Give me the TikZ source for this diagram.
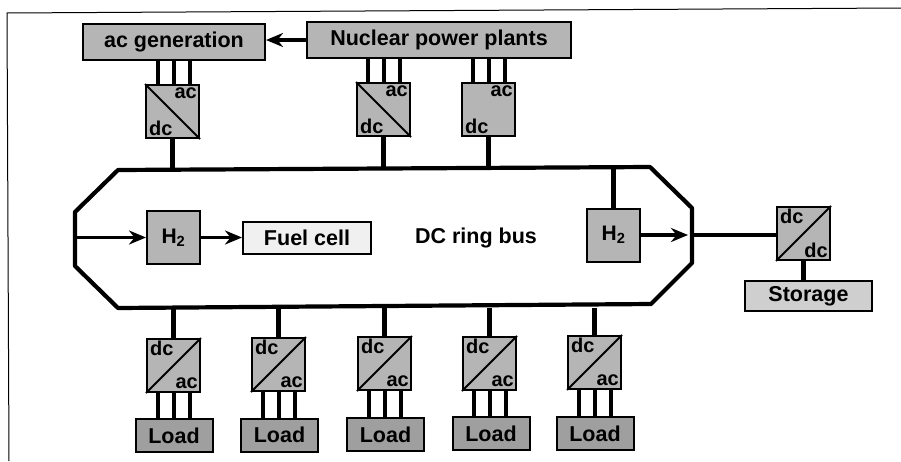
\documentclass[tikz,border=0pt]{standalone}
\usepackage{fontspec}
\setmainfont{Liberation Sans}
\usetikzlibrary{positioning}
\usetikzlibrary{arrows.meta}
\usetikzlibrary{calc}

\tikzset{
	bus line/.style={line width=4.2pt,black},
	phase line/.style={line width=4pt,black},
	feed/.style={line width=3.4pt,black,-{Stealth[length=17pt,width=14pt]}},
	conv box/.style={draw,line width=2pt,fill=gray!58,minimum size=53pt,inner sep=0pt},
	conv text/.style={inner sep=0pt,font=\fontsize{20}{20}\selectfont\bfseries},
	source box/.style={draw,line width=2pt,fill=gray!58,inner sep=0pt,font=\fontsize{21.5}{21.5}\selectfont\bfseries},
	load box/.style={source box,fill=gray!75,minimum width=77pt,minimum height=33pt},
}

% three conductors between a box and a converter
\newcommand{\PhaseLines}[2]{
	\foreach \Off in {-16,0,16}
		\draw[phase line] ([xshift=\Off pt]#1.south) -- ([xshift=\Off pt]#1.south |- #2.north);
}
\newcommand{\PhaseLinesUp}[2]{
	\foreach \Off in {-16,0,16}
		\draw[phase line] ([xshift=\Off pt]#1.north) -- ([xshift=\Off pt]#1.north |- #2.south);
}

\begin{document}
\begin{tikzpicture}[x=1pt,y=-1pt]
\useasboundingbox (0,0) rectangle (901,461);

% scanned frame
\draw[line width=1pt] (9,461) -- (7,13) -- (901,8);

% Generation
\node (acgen) [source box,minimum width=182pt,minimum height=36pt] at (174,42) {ac generation};
\node (nuclear) [source box,minimum width=264pt,minimum height=36pt] at (439,40) {Nuclear power plants};
\draw[feed] (nuclear.west) -- (nuclear.west -| acgen.east);

% top converters
\node (convA) [conv box] at (172.5,111.5) {};
\node (convB) [conv box] at (383.5,109.5) {};
\node (convC) [conv box] at (488.5,109.5) {};
\draw[line width=1.8pt] (convA.north west) -- (convA.south east);
\draw[line width=1.8pt] (convB.north west) -- (convB.south east);
\foreach \Conv in {convA,convB,convC} {
	\node (\Conv ac) [conv text,anchor=north east] at ([shift={(-3,4)}]\Conv.north east) {ac};
	\node (\Conv dc) [conv text,anchor=south west] at ([shift={(4,-3)}]\Conv.south west) {dc};
}
\PhaseLines{acgen}{convA}
\PhaseLinesUp{convB}{nuclear}
\PhaseLinesUp{convC}{nuclear}

% DC ring
\coordinate (ringA) at (118,170);
\coordinate (ringB) at (650,167);
\coordinate (ringC) at (692,208);
\coordinate (ringD) at (692,263);
\coordinate (ringE) at (651,304);
\coordinate (ringF) at (118,308);
\coordinate (ringG) at (75,266);
\coordinate (ringH) at (75,212);
\draw[bus line,line join=round] (ringA) -- (ringB) -- (ringC) -- (ringD) -- (ringE) -- (ringF) -- (ringG) -- (ringH) -- cycle;
\draw[bus line] (convA.south) -- (convA.south |- ringA);
\draw[bus line] (convB.south) -- (convB.south |- ringA);
\draw[bus line] (convC.south) -- (convC.south |- ringB);

\node (busname) [inner sep=0pt,font=\fontsize{21.5}{21.5}\selectfont\bfseries] at (476,238) {DC ring bus};

% hydrogen
\node (hleft) [conv box,font=\fontsize{21}{21}\selectfont\bfseries] at (173.5,237.5) {H$_{\mathbf 2}$};
\node (fuel) [source box,fill=gray!12,minimum width=128pt,minimum height=32pt] at (307,237.5) {Fuel cell};
\node (hright) [conv box,font=\fontsize{21}{21}\selectfont\bfseries] at (613.5,235) {H$_{\mathbf 2}$};
\coordinate (ringW) at (75,237.5);
\coordinate (ringO) at (688,235);
\coordinate (ringX) at (692,235);
\draw[feed] (ringW) -- (hleft.west);
\draw[feed] (hleft.east) -- (fuel.west);
\draw[bus line] (hright.north) -- (hright.north |- ringB);
\draw[feed] (hright.east) -- (ringO);

% storage branch
\node (convS) [conv box] at (803.5,233.5) {};
\draw[line width=1.8pt] (convS.south west) -- (convS.north east);
\node (convSdc) [conv text,anchor=north west] at ([shift={(4,3)}]convS.north west) {dc};
\node (convSdcb) [conv text,anchor=south east] at ([shift={(-3,-3)}]convS.south east) {dc};
\node (storage) [source box,fill=gray!38,minimum width=127pt,minimum height=30pt] at (808.5,296) {Storage};
\draw[bus line] (ringX) -- (ringX -| convS.west);
\draw[bus line] (convS.south) -- (convS.south |- storage.north);

% Load converters
\foreach \Name/\Cx/\Cy/\Lx/\Ly in {1/173.5/365.5/174/435.5,2/278.5/364.5/279.5/435,3/384.5/363.5/385.5/434.5,4/489.5/363.5/491/433.5,5/594.5/362.5/595/433.5} {
	\node (conv\Name) [conv box] at (\Cx,\Cy) {};
	\node (load\Name) [load box] at (\Lx,\Ly) {Load};
	\draw[line width=1.8pt] (conv\Name.south west) -- (conv\Name.north east);
	\node (conv\Name dc) [conv text,anchor=north west] at ([shift={(4,3)}]conv\Name.north west) {dc};
	\node (conv\Name ac) [conv text,anchor=south east] at ([shift={(-3,-4)}]conv\Name.south east) {ac};
	\draw[bus line] (conv\Name.north) -- (conv\Name.north |- ringF);
	\PhaseLines{conv\Name}{load\Name}
}
\end{tikzpicture}
\end{document}
